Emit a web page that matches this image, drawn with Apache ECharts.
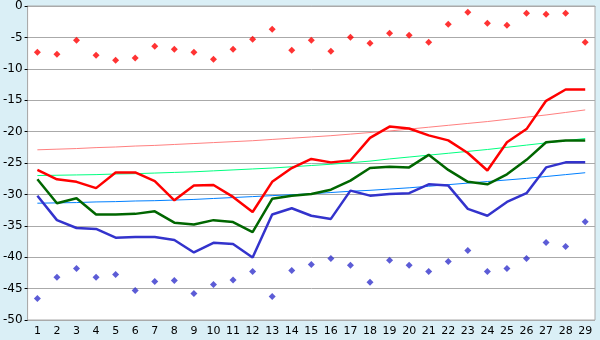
<!DOCTYPE html>
<html>
<head>
<meta charset="utf-8">
<script src="https://cdn.jsdelivr.net/npm/echarts@6/dist/echarts.min.js"></script>
<style>
  html, body { margin: 0; padding: 0; background: #daeff6; }
  #main { width: 600px; height: 340px; }
</style>
</head>
<body>
<div id="main"></div>
<script>
// categories (days)
var days = [];
for (var d = 1; d <= 29; d++) days.push(String(d));

// highest values (red diamonds)
var maxPts = [-7.35, -7.67, -5.45, -7.83, -8.62, -8.3, -6.4, -6.88, -7.35, -8.46,
    -6.88, -5.29, -3.7, -7.04, -5.45, -7.2, -4.97, -5.93, -4.34, -4.66,
    -5.77, -2.9, -1.0, -2.75, -3.07, -1.16, -1.32, -1.16, -5.77];
// lowest values (blue diamonds)
var minPts = [-46.56, -43.2, -41.8, -43.2, -42.75, -45.3, -43.86, -43.7, -45.77, -44.34,
    -43.65, -42.27, -46.24, -42.1, -41.16, -40.2, -41.3, -44.0, -40.5, -41.3,
    -42.27, -40.7, -38.94, -42.27, -41.8, -40.2, -37.67, -38.3, -34.34];
// red line
var redLine = [-26.1, -27.6, -28.0, -29.0, -26.5, -26.5, -27.9, -30.95, -28.6, -28.5,
    -30.4, -32.8, -28.0, -25.8, -24.35, -24.9, -24.6, -21.0, -19.2, -19.5,
    -20.6, -21.4, -23.4, -26.2, -21.7, -19.6, -15.1, -13.3, -13.3];
// green line
var greenLine = [-27.6, -31.4, -30.6, -33.2, -33.2, -33.1, -32.7, -34.5, -34.8, -34.1,
    -34.4, -36.0, -30.7, -30.2, -29.95, -29.25, -27.8, -25.8, -25.6, -25.7,
    -23.7, -26.1, -28.0, -28.4, -26.8, -24.5, -21.7, -21.4, -21.4];
// blue line
var blueLine = [-30.2, -34.1, -35.35, -35.5, -36.9, -36.8, -36.8, -37.25, -39.25, -37.7,
    -37.9, -40.05, -33.2, -32.2, -33.4, -33.9, -29.4, -30.2, -29.95, -29.8,
    -28.4, -28.6, -32.3, -33.4, -31.2, -29.8, -25.7, -24.9, -24.9];
// trend lines
var redTrend = [-22.9, -22.8, -22.7, -22.55, -22.45, -22.3, -22.2, -22.05, -21.9, -21.75,
    -21.6, -21.45, -21.25, -21.05, -20.85, -20.65, -20.4, -20.15, -19.9, -19.6,
    -19.3, -19.0, -18.7, -18.4, -18.05, -17.7, -17.35, -16.95, -16.55];
var greenTrend = [-27.0, -26.95, -26.9, -26.85, -26.75, -26.7, -26.6, -26.5, -26.4, -26.25,
    -26.1, -25.95, -25.8, -25.6, -25.4, -25.2, -24.95, -24.7, -24.35, -24.05,
    -23.75, -23.45, -23.15, -22.85, -22.5, -22.15, -21.8, -21.45, -21.1];
var blueTrend = [-31.4, -31.35, -31.3, -31.2, -31.15, -31.05, -31.0, -30.9, -30.8, -30.65,
    -30.5, -30.35, -30.2, -30.05, -29.9, -29.7, -29.5, -29.35, -29.15, -28.95,
    -28.7, -28.45, -28.2, -27.95, -27.7, -27.45, -27.15, -26.85, -26.55];

var myChart = echarts.init(document.getElementById('main'));

function trend(data, color) {
    return {
        type: 'line', data: data, symbol: 'none', silent: true,
        lineStyle: { color: color, width: 1 }, z: 2
    };
}
function main(data, color) {
    return {
        type: 'line', data: data, symbol: 'none',
        lineStyle: { color: color, width: 2.5 }, z: 3
    };
}
function dots(data, color) {
    return {
        type: 'scatter', data: data, symbol: 'diamond', symbolSize: 7,
        itemStyle: { color: color }, z: 4
    };
}

var option = {
    animation: false,
    backgroundColor: '#daeff6',
    textStyle: { fontFamily: 'DejaVu Sans' },
    grid: {
        left: 26, right: 5, top: 5, bottom: 20,
        show: true, backgroundColor: '#ffffff',
        borderColor: '#aaaaaa', borderWidth: 1
    },
    xAxis: {
        type: 'category',
        data: days,
        boundaryGap: true,
        axisLine: { lineStyle: { color: '#aaaaaa' } },
        axisTick: { alignWithLabel: true, length: 4, lineStyle: { color: '#000' } },
        axisLabel: { color: '#000', fontSize: 11, margin: 6, interval: 0 },
        splitLine: { show: false }
    },
    yAxis: {
        type: 'value',
        min: -50, max: 0, interval: 5,
        axisLine: { show: true, lineStyle: { color: '#aaaaaa' } },
        axisTick: { show: true, length: 3, lineStyle: { color: '#000' } },
        axisLabel: { color: '#000', fontSize: 12, margin: 5 },
        splitLine: { lineStyle: { color: '#aaaaaa', width: 1 } }
    },
    series: [
        trend(redTrend, '#ff8080'),
        trend(greenTrend, '#00ff80'),
        trend(blueTrend, '#0080ff'),
        main(redLine, '#ff0000'),
        main(greenLine, '#006600'),
        main(blueLine, '#3333cc'),
        dots(maxPts, '#ff0000'),
        dots(minPts, '#3333cc')
    ]
};
myChart.setOption(option);
</script>
</body>
</html>
